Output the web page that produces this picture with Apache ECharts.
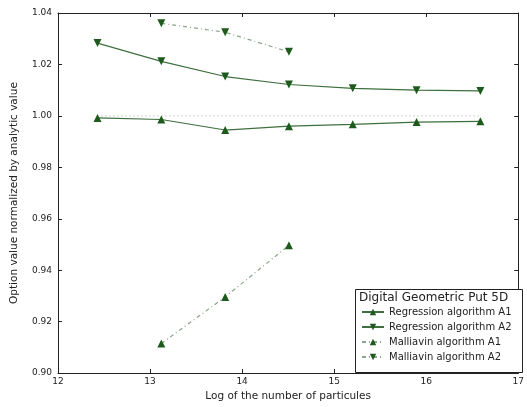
<!DOCTYPE html>
<html><head><meta charset="utf-8">
<script src="https://cdn.jsdelivr.net/npm/echarts@6/dist/echarts.min.js"></script>
<style>html,body{margin:0;padding:0;background:#fff}#c{width:527px;height:407px}</style>
</head><body><div id="c"></div>
<script>
const xLog = [12.429, 13.122, 13.816, 14.509, 15.202, 15.895, 16.588];
const regA1 = [0.9992, 0.9986, 0.9945, 0.9960, 0.9967, 0.9976, 0.9979];
const regA2 = [1.0283, 1.0212, 1.0153, 1.0122, 1.0107, 1.0100, 1.0097];
const xMal = [13.122, 13.816, 14.509];
const malA1 = [0.9115, 0.9296, 0.9497];
const malA2 = [1.0360, 1.0325, 1.0249];
const xAnalytic = [12.429, 16.588];
const analytic = [1.0, 1.0];
const xTicks = [12, 13, 14, 15, 16, 17];
const yTicks = [0.90, 0.92, 0.94, 0.96, 0.98, 1.00, 1.02, 1.04];
const names = ['Regression algorithm A1', 'Regression algorithm A2', 'Malliavin algorithm A1', 'Malliavin algorithm A2'];
const legendTitle = 'Digital Geometric Put 5D';

const zip = (xs, ys) => xs.map((x, i) => [x, ys[i]]);
const lineCol = '#3f6f3f';
const markCol = '#1e5a1e';
const font = 'DejaVu Sans';

const chart = echarts.init(document.getElementById('c'), null, {renderer: 'canvas'});
const axisBase = {
  type: 'value',
  axisLine: {show: true, lineStyle: {color: '#222', width: 1}},
  axisTick: {show: true, inside: true, length: 4, lineStyle: {color: '#222'}},
  splitLine: {show: false},
};
const mk = (name, xs, ys, rot, dash) => ({
  name, type: 'line', data: zip(xs, ys),
  symbol: 'triangle', symbolSize: 8, symbolRotate: rot,
  itemStyle: {color: markCol},
  lineStyle: {color: dash ? '#8aa58a' : lineCol, width: 1.2, type: dash ? [4, 3, 1, 3] : 'solid'},
  animation: false, z: 3
});
chart.setOption({
  animation: false,
  grid: {left: 58, right: 2, top: 13, bottom: 30},
  xAxis: [
    Object.assign({}, axisBase, {min: 12, max: 17, interval: 1, position: 'bottom',
      axisLabel: {color: '#222', fontFamily: font, fontSize: 9, margin: 4, showMaxLabel: true},
      name: 'Log of the number of particules', nameLocation: 'middle', nameGap: 17,
      nameTextStyle: {color: '#222', fontFamily: font, fontSize: 10.5}}),
    Object.assign({}, axisBase, {min: 12, max: 17, interval: 1, position: 'top', axisLabel: {show: false}})
  ],
  yAxis: [
    Object.assign({}, axisBase, {min: 0.90, max: 1.04, interval: 0.02, position: 'left',
      axisLabel: {color: '#222', fontFamily: font, fontSize: 9, margin: 6, formatter: v => v.toFixed(2)},
      name: 'Option value normalized by analytic value', nameLocation: 'middle', nameGap: 38,
      nameTextStyle: {color: '#222', fontFamily: font, fontSize: 10.5}}),
    Object.assign({}, axisBase, {min: 0.90, max: 1.04, interval: 0.02, position: 'right', axisLabel: {show: false}})
  ],
  legend: {
    data: names, orient: 'vertical', left: 361, top: 307, itemGap: 5,
    itemWidth: 22, itemHeight: 8, z: 20,
    textStyle: {fontFamily: font, fontSize: 10, color: '#222'}, padding: 0
  },
  graphic: [
    {type: 'rect', shape: {x: 355.5, y: 289.5, width: 167, height: 83},
     style: {fill: '#fff', stroke: '#222', lineWidth: 1}, z: 10, silent: true},
    {type: 'text', left: 359, top: 292, z: 11,
     style: {text: legendTitle, fontFamily: font, fontSize: 12, fill: '#222'}}
  ],
  series: [
    {name: 'analytic', type: 'line', data: zip(xAnalytic, analytic), showSymbol: false, symbol: 'none',
     lineStyle: {color: '#9bb09b', width: 1, type: [1, 3]}, z: 2},
    mk(names[0], xLog, regA1, 0, false),
    mk(names[1], xLog, regA2, 180, false),
    mk(names[2], xMal, malA1, 0, true),
    mk(names[3], xMal, malA2, 180, true)
  ]
});
</script></body></html>
